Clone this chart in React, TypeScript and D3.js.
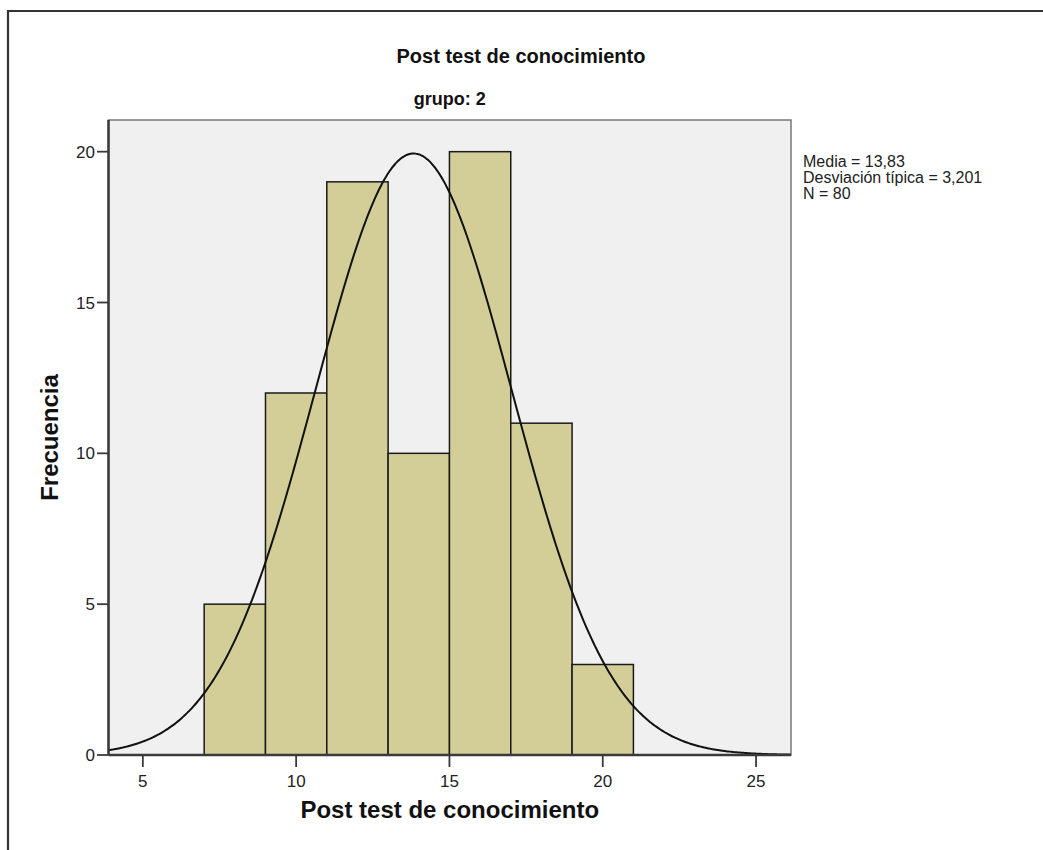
import React from 'react';
import * as d3 from 'd3';

const binStarts = [7, 9, 11, 13, 15, 17, 19];
const binWidth = 2;
const frequencies = [5, 12, 19, 10, 20, 11, 3];
const xTicks = [5, 10, 15, 20, 25];
const yTicks = [0, 5, 10, 15, 20];
const meanValue = 13.83;
const sdValue = 3.201;
const nValue = 80;
const legendLines = ['Media = 13,83', 'Desviación típica = 3,201', 'N = 80'];
const titleText = 'Post test de conocimiento';
const subtitleText = 'grupo: 2';
const xLabel = 'Post test de conocimiento';
const yLabel = 'Frecuencia';
const xDomain: [number, number] = [3.88, 26.14];
const yDomain: [number, number] = [0, 21.05];

const W = 1043;
const H = 850;
const plot = { left: 108.5, right: 791, top: 120, bottom: 755 };
const FONT = "Arial, 'Liberation Sans', sans-serif";

export default function App() {
  const x = d3.scaleLinear().domain(xDomain).range([plot.left, plot.right]);
  const y = d3.scaleLinear().domain(yDomain).range([plot.bottom, plot.top]);
  const k = (nValue * binWidth) / (sdValue * Math.sqrt(2 * Math.PI));
  const pts = d3.range(0, 401).map((i) => {
    const xv = xDomain[0] + ((xDomain[1] - xDomain[0]) * i) / 400;
    const yv = k * Math.exp(-((xv - meanValue) ** 2) / (2 * sdValue * sdValue));
    return [xv, yv] as [number, number];
  });
  const line = d3
    .line<[number, number]>()
    .x((d) => x(d[0]))
    .y((d) => y(d[1]))
    .curve(d3.curveBasis);

  return (
    <svg
      width={W}
      height={H}
      style={{ position: 'absolute', left: 0, top: 0, background: '#fff' }}
      fontFamily={FONT}
    >
      <rect x={0} y={0} width={W} height={H} fill="#fff" />
      <path d={`M8,${H} V11 H${W}`} fill="none" stroke="#333" strokeWidth={2.2} />
      <text x={521} y={63} textAnchor="middle" fontSize={20} fontWeight="bold" fill="#111">
        {titleText}
      </text>
      <text x={(plot.left + plot.right) / 2} y={105} textAnchor="middle" fontSize={18} fontWeight="bold" fill="#111">
        {subtitleText}
      </text>
      <defs>
        <clipPath id="plotclip">
          <rect x={plot.left} y={plot.top} width={plot.right - plot.left} height={plot.bottom - plot.top} />
        </clipPath>
      </defs>
      <rect
        x={plot.left}
        y={plot.top}
        width={plot.right - plot.left}
        height={plot.bottom - plot.top}
        fill="#f0f0f0"
        stroke="#777"
        strokeWidth={1.5}
      />
      {binStarts.map((b, i) => (
        <rect
          key={i}
          x={x(b)}
          y={y(frequencies[i])}
          width={x(b + binWidth) - x(b)}
          height={y(0) - y(frequencies[i])}
          fill="#d3ce97"
          stroke="#1a1a1a"
          strokeWidth={1.5}
        />
      ))}
      <path d={line(pts) || ''} fill="none" stroke="#111" strokeWidth={2} clipPath="url(#plotclip)" />
      <line x1={plot.left} x2={plot.left} y1={plot.top} y2={plot.bottom} stroke="#3a3a3a" strokeWidth={2.5} />
      <line x1={plot.left} x2={plot.right} y1={plot.bottom} y2={plot.bottom} stroke="#3a3a3a" strokeWidth={2.5} />
      {yTicks.map((t) => (
        <g key={t}>
          <line x1={97} x2={plot.left} y1={y(t)} y2={y(t)} stroke="#3a3a3a" strokeWidth={1.8} />
          <text x={95} y={y(t)} dy="0.36em" textAnchor="end" fontSize={17} fill="#222">
            {t}
          </text>
        </g>
      ))}
      {xTicks.map((t) => (
        <g key={t}>
          <line x1={x(t)} x2={x(t)} y1={plot.bottom} y2={767} stroke="#3a3a3a" strokeWidth={1.8} />
          <text x={x(t)} y={787} textAnchor="middle" fontSize={17} fill="#222">
            {t}
          </text>
        </g>
      ))}
      <text x={(plot.left + plot.right) / 2} y={818} textAnchor="middle" fontSize={24} fontWeight="bold" fill="#111">
        {xLabel}
      </text>
      <text
        transform={`translate(58,${(plot.top + plot.bottom) / 2}) rotate(-90)`}
        textAnchor="middle"
        fontSize={24}
        fontWeight="bold"
        fill="#111"
      >
        {yLabel}
      </text>
      {legendLines.map((l, i) => (
        <text key={i} x={803} y={167 + i * 16} fontSize={16} fill="#222">
          {l}
        </text>
      ))}
    </svg>
  );
}
